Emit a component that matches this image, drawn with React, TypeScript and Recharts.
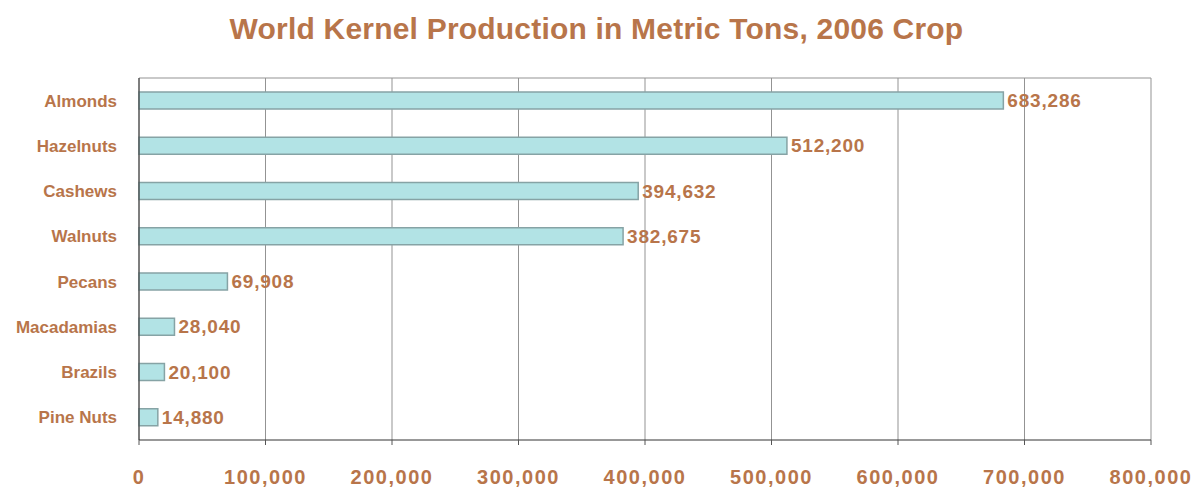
import { BarChart, Bar, XAxis, YAxis, CartesianGrid, LabelList } from 'recharts';

const nuts = ['Almonds', 'Hazelnuts', 'Cashews', 'Walnuts', 'Pecans', 'Macadamias', 'Brazils', 'Pine Nuts'];
const tons = [683286, 512200, 394632, 382675, 69908, 28040, 20100, 14880];
const xTicks = [0, 100000, 200000, 300000, 400000, 500000, 600000, 700000, 800000];

const data = nuts.map((name, i) => ({ name, tons: tons[i] }));

const brown = '#b8754a';
const font = 'Liberation Sans, Arial, sans-serif';
const fmt = (v: number) => v.toLocaleString('en-US');

export default function App() {
  return (
    <div style={{ position: 'absolute', left: 0, top: 0, width: 1193, height: 491, background: '#fff', fontFamily: font }}>
      <div
        style={{
          position: 'absolute',
          top: 12,
          left: 0,
          width: 1193,
          textAlign: 'center',
          color: brown,
          fontSize: 30,
          fontWeight: 'bold',
          letterSpacing: 0.2,
        }}
      >
        World Kernel Production in Metric Tons, 2006 Crop
      </div>
      <BarChart
        width={1193}
        height={491}
        data={data}
        layout="vertical"
        margin={{ top: 78, right: 42, bottom: 0, left: 0 }}
        barCategoryGap={28}
      >
        <CartesianGrid stroke="#939393" horizontal={true} horizontalPoints={[78]} vertical={true} />
        <XAxis
          type="number"
          domain={[0, 800000]}
          ticks={xTicks}
          tickFormatter={fmt}
          height={51}
          axisLine={{ stroke: '#333' }}
          tickLine={{ stroke: '#555' }}
          tickSize={5}
          tickMargin={25}
          tick={{ fill: brown, fontSize: 20, fontWeight: 'bold', letterSpacing: 1.5, fontFamily: font }}
        />
        <YAxis
          type="category"
          dataKey="name"
          width={139}
          axisLine={{ stroke: '#333' }}
          tickLine={false}
          tickSize={6}
          tickMargin={16}
          tick={{ fill: brown, fontSize: 17, fontWeight: 'bold', fontFamily: font }}
        />
        <Bar dataKey="tons" fill="#b2e3e5" stroke="#86a3a5" strokeWidth={1.5} barSize={17} isAnimationActive={false}>
          <LabelList
            dataKey="tons"
            position="right"
            offset={4}
            formatter={(v: any) => fmt(Number(v))}
            fill={brown}
            fontSize={19}
            fontWeight="bold"
            letterSpacing={0.8}
            fontFamily={font}
          />
        </Bar>
      </BarChart>
    </div>
  );
}
